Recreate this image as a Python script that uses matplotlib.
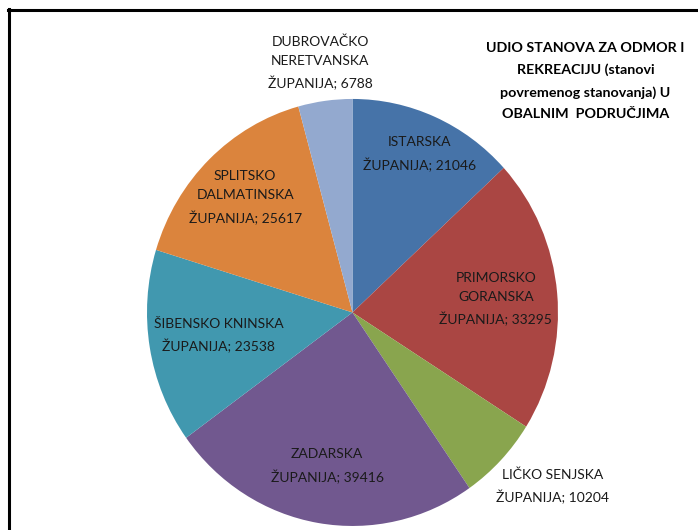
import numpy as np
import matplotlib
matplotlib.use("Agg")
from matplotlib import pyplot as plt
from matplotlib.lines import Line2D

plt.rcParams["font.family"] = ["Lato", "DejaVu Sans"]

labels = ["ISTARSKA\nŽUPANIJA", "PRIMORSKO\nGORANSKA\nŽUPANIJA", "LIČKO SENJSKA\nŽUPANIJA",
          "ZADARSKA\nŽUPANIJA", "ŠIBENSKO KNINSKA\nŽUPANIJA", "SPLITSKO\nDALMATINSKA\nŽUPANIJA",
          "DUBROVAČKO\nNERETVANSKA\nŽUPANIJA"]
values = [21046, 33295, 10204, 39416, 23538, 25617, 6788]
colors = ["#4673A8", "#AA4643", "#89A54E", "#71588F", "#4198AF", "#DB843D", "#93A9CF"]
# label placement: radius and angle nudge (deg) relative to wedge middle
label_dist = [0.81, 0.70, 1.27, 0.73, 0.66, 0.75, 1.18]
label_nudge = [0, 0, 4, 0, 0, 0, 0]
title = "UDIO STANOVA ZA ODMOR I\nREKREACIJU (stanovi\npovremenog stanovanja) U\nOBALNIM  PODRUČJIMA"

fig = plt.figure(figsize=(6.98, 5.30), dpi=100)
ax = fig.add_axes([0.2106, 0.0076, 0.5888, 0.8057])
wedges, _ = ax.pie(values, colors=colors, startangle=90, counterclock=False)
ax.set_aspect("auto")
ax.set_xlim(-1, 1)
ax.set_ylim(-1, 1)

for w, lab, v, d, n in zip(wedges, labels, values, label_dist, label_nudge):
    ang = np.deg2rad((w.theta1 + w.theta2) / 2 + n)
    ax.text(d * np.cos(ang), d * np.sin(ang), f"{lab}; {v}", ha="center", va="center",
            fontsize=10, color="#1a1a1a", linespacing=1.72)

fig.text(0.839, 0.847, title, ha="center", va="center", fontsize=10.3, fontweight="bold",
         linespacing=1.92)

# frame
fig.add_artist(Line2D([9 / 698, 9 / 698], [0, 1 - 9 / 530], color="black", lw=2.2))
fig.add_artist(Line2D([8 / 698, 1], [1 - 9.5 / 530, 1 - 9.5 / 530], color="black", lw=2.2))

fig.savefig("out.png", dpi=100)
